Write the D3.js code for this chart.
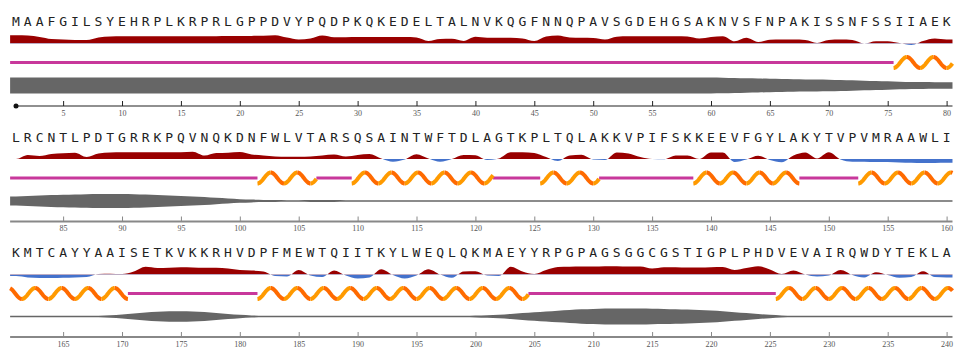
<!DOCTYPE html>
<html>
<head>
<meta charset="utf-8">
<script src="https://cdn.jsdelivr.net/npm/d3@7"></script>
<style>
  body { margin: 0; background: #fff; }
  svg { display: block; }
  .residue { font: 13px "DejaVu Sans Mono", monospace; fill: #222; }
  .tick text { font: 8px "Liberation Serif", serif; fill: #555; }
</style>
</head>
<body>
<svg id="chart" width="955" height="349"></svg>
<script>
// amino acid sequence, 80 residues per row
const sequence = (
  "MAAFGILSYEHRPLKRPRLGPPDVYPQDPKQKEDELTALNVKQGFNNQPAVSGDEHGSAKNVSFNPAKISSNFSSIIAEK" +
  "LRCNTLPDTGRRKPQVNQKDNFWLVTARSQSAINTWFTDLAGTKPLTQLAKKVPIFSKKEEVFGYLAKYTVPVMRAAWLI" +
  "KMTCAYYAAISETKVKKRHVDPFMEWTQIITKYLWEQLQKMAEYYRPGPAGSGGCGSTIGPLPHDVEVAIRQWDYTEKLA"
).split("");

// per-residue score (red above zero, blue below)
const hydropathy = [
  // 1-80
  8.3, 8.0, 6.5, 4.5, 4.0, 3.5, 3.5, 6.0, 7.0, 7.2,
  7.3, 7.3, 7.3, 7.3, 7.3, 7.3, 7.3, 7.3, 7.4, 7.5,
  7.6, 7.8, 8.3, 6.0, 4.0, 5.0, 8.0, 6.3, 6.3, 6.5,
  6.5, 6.5, 6.5, 6.5, 6.0, 2.5, 4.5, 4.7, 2.5, 6.7,
  5.7, 5.7, 5.7, 5.0, 2.5, 7.0, 8.0, 6.0, 5.7, 5.5,
  4.0, 6.8, 7.3, 7.3, 7.3, 7.3, 7.3, 7.0, 5.0, 6.5,
  7.3, 2.2, 5.7, 1.5, 3.8, 4.0, 4.0, 3.5, 0.5, 3.5,
  4.0, 3.5, 0.0, 2.3, 2.3, 0.5, -1.5, 2.5, 5.0, 4.0,
  // 81-160
  0.0, 4.0, 3.0, 5.0, 5.7, 6.3, 2.0, 5.5, 6.5, 6.7,
  6.7, 6.7, 6.7, 6.7, 6.8, 7.3, 3.5, 6.0, 6.3, 7.0,
  4.5, 3.5, 2.5, 2.3, 2.3, 2.5, 3.5, 4.5, 2.5, 4.0,
  5.0, 0.5, -2.7, -0.5, 4.7, 0.5, -2.7, 0.0, 4.0, 3.8,
  -1.0, 0.5, 6.7, 6.7, 6.0, 2.0, -2.0, 3.5, 4.2, -0.5,
  -1.0, 6.5, 5.5, 2.0, 0.0, -0.3, 3.5, 3.5, 0.0, 6.5,
  6.5, -3.0, -0.5, 3.3, -1.0, -3.3, 3.5, 6.5, 0.5, 6.7,
  -0.5, -2.7, -2.7, -3.0, -3.0, -3.5, -3.8, -4.0, -4.0, -3.8,
  // 161-240
  -1.5, -3.0, -3.5, -3.5, -3.3, -3.0, -2.5, 0.5, 0.8, 0.5,
  3.0, 7.7, 6.5, 6.8, 7.2, 7.0, 6.7, 6.7, 6.0, 4.5,
  4.0, 3.0, -1.5, -2.0, 4.5, -1.0, -2.5, 4.0, -1.0, -4.0,
  -3.0, 5.3, -0.5, -4.0, -1.0, 5.3, 0.0, -3.3, 3.0, 3.3,
  -1.0, -1.5, 7.7, 3.0, 0.5, 4.5, 7.5, 7.8, 8.0, 8.0,
  8.3, 8.3, 8.0, 8.0, 6.0, 7.3, 7.3, 7.0, 7.0, 7.3,
  7.5, 4.5, 6.5, 8.3, 5.0, 0.5, 4.0, 0.0, -2.0, -1.0,
  4.5, -0.5, -3.0, 2.3, -0.5, -3.3, -2.5, 3.3, -2.5, -3.0
];

// per-residue thickness of the grey band
const disorder = [
  // 1-80
  8.0, 8.0, 8.0, 8.0, 8.0, 8.0, 8.0, 8.0, 8.0, 8.0,
  8.0, 8.0, 8.0, 8.0, 8.0, 8.0, 8.0, 8.0, 8.0, 8.0,
  8.0, 8.0, 8.0, 8.0, 8.0, 8.0, 8.0, 8.0, 8.0, 8.0,
  7.9, 7.9, 7.9, 7.9, 7.9, 7.9, 7.9, 7.9, 7.9, 7.9,
  7.9, 7.9, 7.9, 7.9, 7.9, 7.9, 7.9, 7.9, 7.9, 7.9,
  7.9, 7.9, 7.9, 7.9, 7.9, 7.9, 7.9, 7.9, 7.9, 7.9,
  7.8, 7.5, 7.2, 7.0, 6.7, 6.5, 6.3, 6.1, 6.0, 5.8,
  5.5, 5.2, 4.8, 4.5, 4.2, 3.8, 3.5, 3.4, 3.3, 3.2,
  // 81-160
  4.5, 5.0, 5.5, 5.9, 6.2, 6.5, 6.8, 7.0, 7.0, 7.0,
  6.8, 6.5, 6.0, 5.5, 5.0, 4.5, 4.0, 3.2, 2.5, 1.8,
  1.4, 1.1, 0.9, 0.8, 0.8, 0.9, 1.0, 0.9, 0.8, 0.8,
  0.7, 0.7, 0.7, 0.7, 0.7, 0.7, 0.7, 0.7, 0.7, 0.7,
  0.7, 0.7, 0.7, 0.7, 0.7, 0.7, 0.7, 0.7, 0.7, 0.7,
  0.7, 0.7, 0.7, 0.7, 0.7, 0.7, 0.7, 0.7, 0.7, 0.7,
  0.7, 0.7, 0.7, 0.7, 0.7, 0.7, 0.7, 0.7, 0.7, 0.7,
  0.7, 0.7, 0.7, 0.7, 0.7, 0.7, 0.7, 0.7, 0.7, 0.7,
  // 161-240
  0.7, 0.7, 0.7, 0.7, 0.7, 0.7, 0.7, 0.8, 1.2, 2.0,
  3.0, 4.0, 4.8, 5.2, 5.3, 5.1, 4.5, 3.6, 2.6, 1.7,
  1.1, 0.8, 0.7, 0.7, 0.7, 0.7, 0.7, 0.7, 0.7, 0.7,
  0.7, 0.7, 0.7, 0.7, 0.7, 0.7, 0.7, 0.7, 0.7, 0.9,
  1.3, 1.8, 2.6, 3.4, 4.2, 5.0, 5.8, 6.5, 7.2, 7.6,
  7.9, 8.0, 8.0, 8.0, 7.8, 7.6, 7.3, 7.0, 6.5, 6.0,
  5.2, 4.3, 3.5, 2.5, 1.7, 1.1, 0.8, 0.7, 0.7, 0.7,
  0.7, 0.7, 0.7, 0.7, 0.7, 0.7, 0.7, 0.7, 0.7, 0.7
];

// helix segments [first, last] residue; everything else is coil
const helices = [[76, 80], [102, 106], [110, 121], [126, 130], [139, 147], [153, 170], [182, 204], [226, 240]];

const rowLength = 80;
const tickStep = 5;
const helixTurn = 2.25; // residues per wave

const rowHeight = 115.5;
const layout = { letters: 26, hydro: 43.5, ss: 62.5, band: 85.5, axis: 106 };
const colors = {
  pos: "#990000", neg: "#4472cc", coil: "#c8389b",
  helixUp: "#ff9a00", helixDown: "#ff6a00", band: "#666"
};

const svg = d3.select("#chart");
const defs = svg.append("defs");

// clip for red part (above baseline) and blue part (below)
defs.append("clipPath").attr("id", "clipPos")
  .append("rect").attr("x", 0).attr("y", 0).attr("width", 955).attr("height", layout.hydro);
defs.append("clipPath").attr("id", "clipNeg")
  .append("rect").attr("x", 0).attr("y", layout.hydro).attr("width", 955).attr("height", 40);

const hydroY = d3.scaleLinear().domain([-10, 10]).range([layout.hydro + 10, layout.hydro - 10]);
const bandW = d3.scaleLinear().domain([0, 10]).range([0, 10]);

const rows = d3.range(sequence.length / rowLength);

rows.forEach(k => {
  const start = k * rowLength + 1;
  const end = start + rowLength - 1;
  const x = d3.scaleLinear().domain([start, end]).range([16, 946.6]);
  const g = svg.append("g").attr("transform", `translate(0,${k * rowHeight})`);
  const res = d3.range(start, end + 1);

  // points with the row edges padded by half a residue
  const withEdges = arr => [[start - 0.5, arr[start - 1]]]
    .concat(res.map(r => [r, arr[r - 1]]))
    .concat([[end + 0.5, arr[end - 1]]]);

  // sequence letters
  g.selectAll("text.residue").data(res).join("text")
    .attr("class", "residue")
    .attr("x", d => x(d))
    .attr("y", layout.letters)
    .attr("text-anchor", "middle")
    .text(d => sequence[d - 1]);

  // red / blue profile
  const hydroArea = d3.area()
    .x(d => x(d[0]))
    .y0(layout.hydro)
    .y1(d => hydroY(d[1]))
    .curve(d3.curveMonotoneX);
  const hp = withEdges(hydropathy);
  g.append("path").attr("d", hydroArea(hp)).attr("fill", colors.pos).attr("clip-path", "url(#clipPos)");
  g.append("path").attr("d", hydroArea(hp)).attr("fill", colors.neg).attr("clip-path", "url(#clipNeg)");

  // secondary structure: coil line first
  const lo = start - 0.5, hi = end + 0.5;
  const inRow = helices.map(h => [Math.max(h[0] - 0.5, lo), Math.min(h[1] + 0.5, hi), h])
    .filter(h => h[0] < h[1]);
  let cursor = lo;
  const coils = [];
  inRow.forEach(h => {
    if (h[0] > cursor) coils.push([cursor, h[0]]);
    cursor = h[1];
  });
  if (cursor < hi) coils.push([cursor, hi]);

  g.selectAll("line.coil").data(coils).join("line")
    .attr("class", "coil")
    .attr("x1", d => x(d[0])).attr("x2", d => x(d[1]))
    .attr("y1", layout.ss).attr("y2", layout.ss)
    .attr("stroke", colors.coil).attr("stroke-width", 3);

  // helix wave, split into half turns so the two legs get their own colour
  const amp = 5.5;
  const waveLine = d3.line().x(d => x(d[0])).y(d => d[1]);
  const halves = [];
  inRow.forEach(([a, b, h]) => {
    const a0 = h[0] - 0.5, a1 = h[1] + 0.5;
    const n = Math.ceil((a1 - a0) / (helixTurn / 2));
    for (let i = 0; i < n; i++) {
      const t0 = Math.max(a0 + i * helixTurn / 2, a);
      const t1 = Math.min(a0 + (i + 1) * helixTurn / 2, a1, b);
      if (t1 <= t0) continue;
      const pts = d3.range(0, 21).map(j => {
        const r = t0 + (t1 - t0) * j / 20;
        return [r, layout.ss + amp * Math.cos(2 * Math.PI * (r - a0) / helixTurn)];
      });
      halves.push({ pts, up: i % 2 === 0 });
    }
  });
  g.selectAll("path.helix").data(halves).join("path")
    .attr("class", "helix")
    .attr("d", d => waveLine(d.pts))
    .attr("fill", "none")
    .attr("stroke", d => d.up ? colors.helixUp : colors.helixDown)
    .attr("stroke-width", 4);

  // grey band
  const bandArea = d3.area()
    .x(d => x(d[0]))
    .y0(d => layout.band - bandW(d[1]))
    .y1(d => layout.band + bandW(d[1]))
    .curve(d3.curveMonotoneX);
  g.append("path").attr("d", bandArea(withEdges(disorder))).attr("fill", colors.band);

  // position axis
  const axisColor = k === 0 ? "#222" : "#888";
  const axis = g.append("g")
    .attr("transform", `translate(0,${layout.axis})`)
    .call(d3.axisBottom(x)
      .tickValues(d3.range(start + tickStep - 1, end + 1, tickStep))
      .tickSizeInner(-5).tickSizeOuter(0).tickPadding(4));
  axis.select(".domain").remove();
  axis.selectAll(".tick line").attr("stroke", axisColor);
  axis.insert("line", ":first-child")
    .attr("x1", k === 0 ? x(start) : x(lo)).attr("x2", x(hi))
    .attr("stroke", axisColor).attr("stroke-width", k === 0 ? 1.2 : 2);
  if (k === 0) {
    axis.append("circle").attr("cx", x(start)).attr("cy", 0).attr("r", 2.5).attr("fill", "#111");
  }
});
</script>
</body>
</html>
